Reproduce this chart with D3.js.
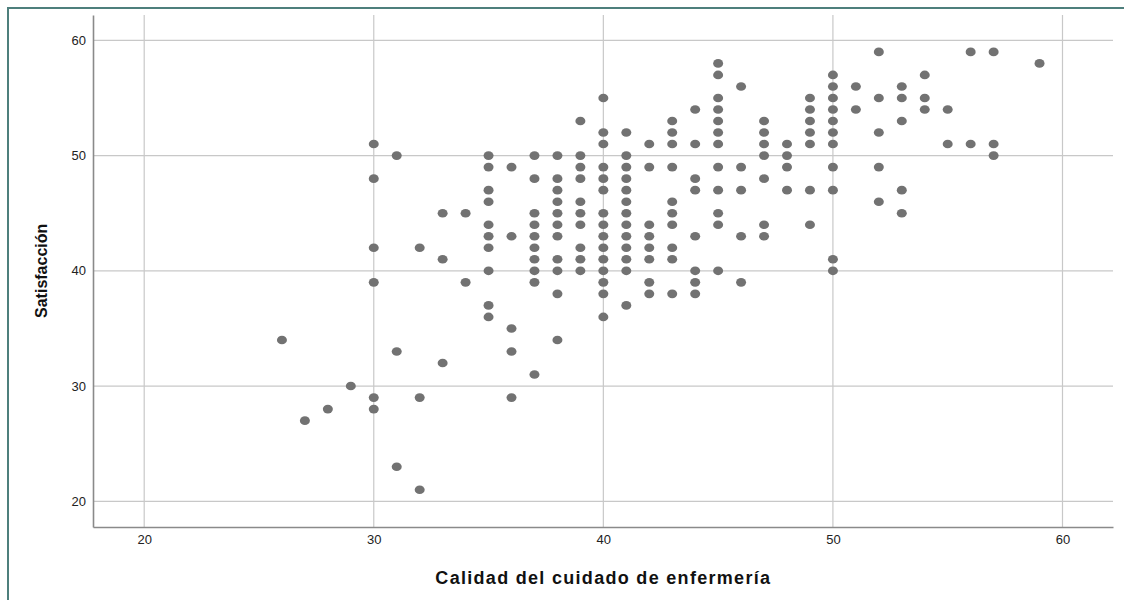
<!DOCTYPE html>
<html><head><meta charset="utf-8">
<script src="https://cdn.jsdelivr.net/npm/d3@7"></script>
<style>body{margin:0;background:#fff}svg{display:block}</style>
</head><body>
<svg id="c" width="1124" height="600"></svg>
<script>
// Data: x value (Calidad) -> list of y values (Satisfacción)
const xValues = [26,27,28,29,30,31,32,33,34,35,36,37,38,39,40,41,42,43,44,45,46,47,48,49,50,51,52,53,54,55,56,57,59];
const yLists = [
  [34],
  [27],
  [28],
  [30],
  [51,48,42,39,29,28],
  [50,33,23],
  [42,29,21],
  [45,41,32],
  [45,39],
  [50,49,47,46,44,43,42,40,37,36],
  [49,43,35,33,29],
  [50,48,45,44,43,42,41,40,39,31],
  [50,48,47,46,45,44,43,41,40,38,34],
  [53,50,49,48,46,45,44,42,41,40],
  [55,52,51,49,48,47,45,44,43,42,41,40,39,38,36],
  [52,50,49,48,47,46,45,44,43,42,41,40,37],
  [51,49,44,43,42,41,39,38],
  [53,52,51,49,46,45,44,42,41,38],
  [54,51,48,47,43,40,39,38],
  [58,57,55,54,53,52,51,49,47,45,44,40],
  [56,49,47,43,39],
  [53,52,51,50,48,44,43],
  [51,50,49,47],
  [55,54,53,52,51,47,44],
  [57,56,55,54,53,52,51,49,47,41,40],
  [56,54],
  [59,55,52,49,46],
  [56,55,53,47,45],
  [57,55,54],
  [54,51],
  [59,51],
  [59,51,50],
  [58]
];
const xTicks = [20,30,40,50,60];
const yTicks = [20,30,40,50,60];
const xTitle = "Calidad del cuidado de enfermería";
const yTitle = "Satisfacción";

const points = [];
xValues.forEach((xv,i)=>yLists[i].forEach(yv=>points.push({x:xv,y:yv})));

const svg = d3.select("#c");
const L=93, R=1113, T=15, B=527;
const x = d3.scaleLinear().domain([17.77,62.2]).range([L,R]);
const y = d3.scaleLinear().domain([17.77,62.2]).range([B,T]);

// outer teal frame
svg.append("path").attr("d","M8,600 L8,8 L1124,8").attr("fill","none")
  .attr("stroke","#4e7f7c").attr("stroke-width",2);

// gridlines
const g = svg.append("g");
g.selectAll(".gx").data(xTicks).join("line")
  .attr("x1",d=>x(d)).attr("x2",d=>x(d)).attr("y1",T).attr("y2",B)
  .attr("stroke","#c8c8c8").attr("stroke-width",1.2);
g.selectAll(".gy").data(yTicks).join("line")
  .attr("y1",d=>y(d)).attr("y2",d=>y(d)).attr("x1",L).attr("x2",R)
  .attr("stroke","#c8c8c8").attr("stroke-width",1.2);

// axes
const xa = svg.append("g").attr("transform",`translate(0,${B})`)
  .call(d3.axisBottom(x).tickValues(xTicks).tickSize(0).tickPadding(8));
const ya = svg.append("g").attr("transform",`translate(${L},0)`)
  .call(d3.axisLeft(y).tickValues(yTicks).tickSize(0).tickPadding(7));
[xa,ya].forEach(a=>{
  a.select(".domain").attr("stroke","#8a8a8a").attr("stroke-width",1.6);
  a.selectAll("text").attr("font-family","Liberation Sans, Arial, sans-serif")
    .attr("font-size",13).attr("fill","#222");
});

// points
svg.append("g").selectAll("ellipse").data(points).join("ellipse")
  .attr("cx",d=>x(d.x)).attr("cy",d=>y(d.y)).attr("rx",5).attr("ry",4.3)
  .attr("fill","#727272");

// titles
svg.append("text").attr("x",(x(20)+x(60))/2).attr("y",584)
  .attr("text-anchor","middle").attr("font-family","Liberation Sans, Arial, sans-serif")
  .attr("font-weight","bold").attr("font-size",18).attr("letter-spacing",1.3)
  .attr("fill","#111").text(xTitle);
svg.append("text").attr("transform",`translate(47,${(y(20)+y(60))/2}) rotate(-90)`)
  .attr("text-anchor","middle").attr("font-family","Liberation Sans, Arial, sans-serif")
  .attr("font-weight","bold").attr("font-size",16).attr("fill","#111").text(yTitle);
</script>
</body></html>
